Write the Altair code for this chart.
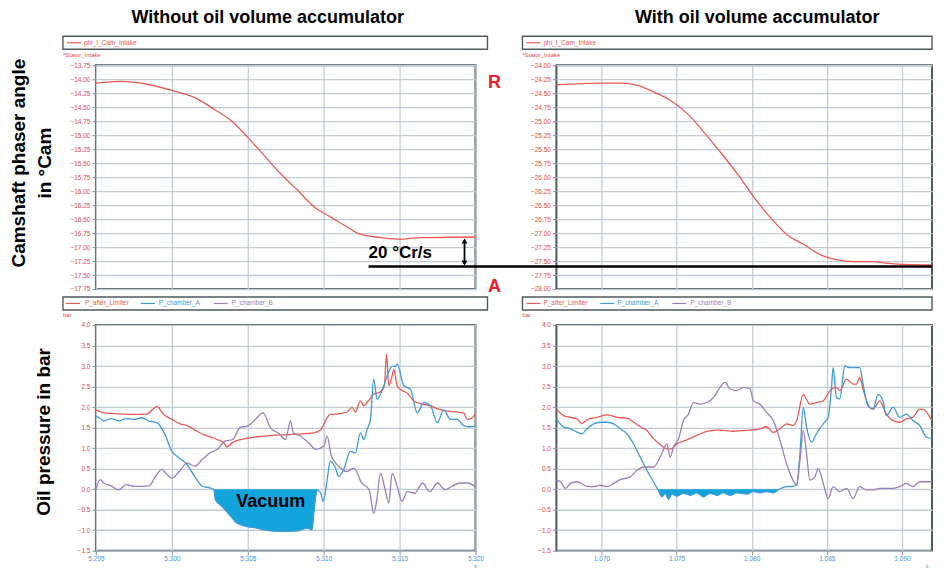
import altair as alt
import pandas as pd

# ---------------- data ----------------
# top row: camshaft phaser angle in °Cam
cam_left_time = [5.2950, 5.2966, 5.2984, 5.3000, 5.3015, 5.3028, 5.3039, 5.3050, 5.3061, 5.3072,
                 5.3083, 5.3094, 5.3105, 5.3116, 5.3124, 5.3138, 5.3151, 5.3159, 5.3170, 5.3200]
cam_left_angle = [-14.07, -14.04, -14.09, -14.20, -14.33, -14.54, -14.74, -15.04, -15.37, -15.70,
                  -15.99, -16.29, -16.47, -16.65, -16.77, -16.83, -16.86, -16.84, -16.83, -16.82]
cam_right_time = [1.0670, 1.0700, 1.0713, 1.0724, 1.0735, 1.0746, 1.0757, 1.0768, 1.0779, 1.0791,
                  1.0802, 1.0813, 1.0824, 1.0835, 1.0846, 1.0857, 1.0868, 1.0879, 1.0891, 1.0902, 1.0920]
cam_right_angle = [-24.35, -24.32, -24.32, -24.36, -24.48, -24.63, -24.86, -25.19, -25.55, -25.96,
                   -26.38, -26.74, -27.04, -27.21, -27.39, -27.48, -27.51, -27.51, -27.54, -27.56, -27.57]

# bottom-left: oil pressure in bar, without accumulator
bl_limiter_t = [5.29500, 5.29551, 5.29616, 5.29726, 5.29836, 5.29869, 5.29902, 5.29946, 5.30001, 5.30056,
                5.30100, 5.30166, 5.30210, 5.30298, 5.30341, 5.30363, 5.30401, 5.30495, 5.30605, 5.30715,
                5.30825, 5.30935, 5.30979, 5.31023, 5.31044, 5.31110, 5.31154, 5.31187, 5.31209, 5.31242,
                5.31264, 5.31286, 5.31330, 5.31374, 5.31400, 5.31414, 5.31429, 5.31451, 5.31462, 5.31484,
                5.31506, 5.31550, 5.31594, 5.31651, 5.31704, 5.31748, 5.31813, 5.31879, 5.31923, 5.31945,
                5.31967, 5.32000]
bl_limiter_p = [1.93, 1.86, 1.84, 1.82, 1.83, 1.93, 2.01, 1.82, 1.70, 1.59,
                1.55, 1.41, 1.33, 1.21, 1.13, 1.03, 1.14, 1.24, 1.29, 1.32,
                1.34, 1.37, 1.44, 1.74, 1.82, 1.84, 1.88, 1.99, 1.88, 2.15,
                2.03, 2.11, 2.31, 2.37, 2.52, 3.29, 2.52, 2.76, 2.92, 2.52,
                2.43, 2.34, 2.15, 2.07, 2.03, 1.96, 1.90, 1.88, 1.85, 1.70,
                1.71, 1.84]
bl_chamber_a_t = [5.29500, 5.29529, 5.29551, 5.29601, 5.29649, 5.29700, 5.29750, 5.29801, 5.29849, 5.29900,
                  5.29950, 5.30001, 5.30049, 5.30100, 5.30150, 5.30201, 5.30249, 5.30276, 5.30287, 5.30330,
                  5.30385, 5.30429, 5.30495, 5.30561, 5.30605, 5.30715, 5.30825, 5.30891, 5.30924, 5.30935,
                  5.30957, 5.30979, 5.30996, 5.31012, 5.31023, 5.31044, 5.31077, 5.31099, 5.31132, 5.31176,
                  5.31209, 5.31242, 5.31264, 5.31286, 5.31308, 5.31330, 5.31352, 5.31396, 5.31418, 5.31451,
                  5.31473, 5.31484, 5.31528, 5.31572, 5.31616, 5.31660, 5.31704, 5.31748, 5.31791, 5.31835,
                  5.31879, 5.31923, 5.31967, 5.32000]
bl_chamber_a_p = [1.78, 1.72, 1.66, 1.72, 1.66, 1.72, 1.70, 1.74, 1.66, 1.62,
                  1.37, 0.92, 0.76, 0.60, 0.31, 0.07, 0.03, -0.01, -0.26, -0.42,
                  -0.65, -0.83, -0.91, -0.95, -0.99, -1.03, -1.02, -0.95, -0.99, -0.59,
                  -0.03, -0.08, -0.30, -0.06, 0.23, 0.68, 0.52, 0.31, 0.48, 0.92,
                  0.88, 1.37, 1.21, 1.45, 1.70, 2.68, 2.19, 2.52, 2.76, 2.99,
                  2.99, 3.05, 2.52, 2.43, 1.86, 2.11, 2.03, 1.62, 1.93, 1.70,
                  1.70, 1.55, 1.52, 1.54]
bl_chamber_b_t = [5.29500, 5.29529, 5.29551, 5.29601, 5.29649, 5.29700, 5.29750, 5.29801, 5.29849, 5.29900,
                  5.29935, 5.29950, 5.30001, 5.30049, 5.30100, 5.30150, 5.30201, 5.30249, 5.30300, 5.30350,
                  5.30401, 5.30449, 5.30500, 5.30550, 5.30601, 5.30649, 5.30700, 5.30750, 5.30781, 5.30801,
                  5.30849, 5.30900, 5.30950, 5.31001, 5.31023, 5.31051, 5.31099, 5.31150, 5.31200, 5.31251,
                  5.31299, 5.31330, 5.31350, 5.31374, 5.31400, 5.31429, 5.31451, 5.31484, 5.31517, 5.31550,
                  5.31600, 5.31651, 5.31699, 5.31750, 5.31800, 5.31850, 5.31899, 5.31950, 5.32000]
bl_chamber_b_p = [-0.01, 0.23, 0.15, 0.08, -0.02, 0.11, 0.07, 0.07, 0.08, 0.35,
                  0.49, 0.43, 0.27, 0.43, 0.64, 0.56, 0.72, 0.88, 0.97, 1.17,
                  1.21, 1.50, 1.54, 1.70, 1.86, 1.50, 1.37, 1.21, 1.66, 1.37,
                  1.29, 1.13, 0.97, 1.05, 1.29, 0.80, 0.56, 0.43, 0.51, 0.15,
                  -0.01, -0.59, -0.26, 0.39, 0.07, -0.34, 0.39, 0.07, -0.30, -0.06,
                  -0.10, 0.15, -0.06, 0.15, -0.01, 0.08, 0.15, 0.15, 0.05]

# bottom-right: oil pressure in bar, with accumulator
br_limiter_t = [1.06700, 1.06749, 1.06793, 1.06837, 1.06870, 1.06904, 1.06970, 1.07037, 1.07103, 1.07169,
                1.07214, 1.07258, 1.07302, 1.07346, 1.07391, 1.07435, 1.07468, 1.07501, 1.07568, 1.07634,
                1.07701, 1.07789, 1.07878, 1.07966, 1.08055, 1.08099, 1.08144, 1.08188, 1.08232, 1.08276,
                1.08299, 1.08343, 1.08387, 1.08431, 1.08476, 1.08520, 1.08564, 1.08586, 1.08631, 1.08675,
                1.08697, 1.08719, 1.08741, 1.08774, 1.08808, 1.08852, 1.08896, 1.08941, 1.08985, 1.09029,
                1.09073, 1.09118, 1.09151, 1.09173, 1.09200]
br_limiter_p = [1.95, 1.79, 1.75, 1.71, 1.60, 1.69, 1.75, 1.81, 1.75, 1.73,
                1.63, 1.52, 1.43, 1.23, 1.09, 0.98, 0.98, 1.10, 1.20, 1.31,
                1.41, 1.44, 1.41, 1.43, 1.47, 1.52, 1.38, 1.47, 1.59, 1.55,
                1.67, 2.31, 2.07, 2.11, 2.15, 2.40, 2.48, 2.40, 2.68, 2.56,
                2.56, 2.72, 2.44, 2.07, 1.95, 2.15, 1.83, 1.67, 1.63, 1.71,
                1.75, 1.95, 1.93, 1.83, 1.67]
br_chamber_a_t = [1.06700, 1.06749, 1.06793, 1.06837, 1.06870, 1.06904, 1.06948, 1.06992, 1.07037, 1.07081,
                  1.07125, 1.07169, 1.07214, 1.07258, 1.07302, 1.07346, 1.07380, 1.07402, 1.07424, 1.07446,
                  1.07468, 1.07501, 1.07546, 1.07590, 1.07634, 1.07679, 1.07723, 1.07767, 1.07811, 1.07856,
                  1.07900, 1.07966, 1.08011, 1.08055, 1.08099, 1.08144, 1.08188, 1.08232, 1.08276, 1.08299,
                  1.08321, 1.08343, 1.08365, 1.08398, 1.08431, 1.08476, 1.08509, 1.08531, 1.08542, 1.08564,
                  1.08586, 1.08620, 1.08653, 1.08697, 1.08719, 1.08741, 1.08774, 1.08808, 1.08841, 1.08874,
                  1.08896, 1.08941, 1.08985, 1.09029, 1.09073, 1.09118, 1.09162, 1.09200]
br_chamber_a_p = [1.71, 1.51, 1.47, 1.39, 1.35, 1.47, 1.59, 1.63, 1.63, 1.59,
                  1.47, 1.35, 1.10, 0.78, 0.46, 0.18, -0.04, -0.19, -0.10, -0.25,
                  -0.12, -0.17, -0.10, -0.15, -0.09, -0.19, -0.10, -0.15, -0.09, -0.15,
                  -0.09, -0.12, -0.06, -0.09, -0.06, -0.09, 0.01, 0.06, 0.07, 0.10,
                  0.86, 1.99, 1.51, 1.15, 1.35, 1.59, 1.75, 2.48, 2.96, 2.23,
                  2.20, 3.00, 2.96, 2.96, 2.96, 2.56, 2.03, 1.95, 2.31, 2.15,
                  1.79, 1.99, 1.75, 1.83, 1.67, 1.55, 1.27, 1.23]
br_chamber_b_t = [1.06700, 1.06727, 1.06760, 1.06793, 1.06837, 1.06904, 1.06948, 1.06992, 1.07037, 1.07081,
                  1.07125, 1.07192, 1.07236, 1.07280, 1.07346, 1.07391, 1.07435, 1.07457, 1.07479, 1.07513,
                  1.07546, 1.07579, 1.07612, 1.07656, 1.07701, 1.07745, 1.07789, 1.07822, 1.07856, 1.07900,
                  1.07944, 1.07989, 1.08011, 1.08055, 1.08099, 1.08144, 1.08188, 1.08232, 1.08276, 1.08299,
                  1.08321, 1.08343, 1.08365, 1.08387, 1.08420, 1.08442, 1.08476, 1.08509, 1.08542, 1.08586,
                  1.08631, 1.08675, 1.08719, 1.08763, 1.08808, 1.08852, 1.08896, 1.08941, 1.08985, 1.09029,
                  1.09073, 1.09118, 1.09162, 1.09200]
br_chamber_b_p = [0.22, 0.18, 0.02, 0.14, 0.18, 0.07, 0.06, 0.10, 0.06, 0.14,
                  0.23, 0.30, 0.46, 0.54, 0.54, 0.78, 1.10, 0.78, 1.02, 1.23,
                  1.67, 1.83, 2.11, 2.07, 2.11, 2.23, 2.48, 2.60, 2.44, 2.40,
                  2.48, 2.44, 2.15, 2.07, 1.87, 1.67, 1.19, 0.62, 0.22, 0.10,
                  0.70, 1.43, 0.86, 0.22, 0.30, 0.50, 0.14, -0.23, 0.06, -0.06,
                  0.02, -0.23, 0.06, -0.02, -0.02, 0.02, 0.02, 0.02, 0.06, 0.14,
                  0.06, 0.18, 0.18, 0.18]

series_names = ["P_after_Limiter", "P_chamber_A", "P_chamber_B"]
cam_series_name = "phi_I_Cam_Intake"

# axes: tick values and domains
cam_left_ticks = [-17.75, -17.5, -17.25, -17.0, -16.75, -16.5, -16.25, -16.0, -15.75, -15.5,
                  -15.25, -15.0, -14.75, -14.5, -14.25, -14.0, -13.75]
cam_right_ticks = [-28.0, -27.75, -27.5, -27.25, -27.0, -26.75, -26.5, -26.25, -26.0, -25.75,
                   -25.5, -25.25, -25.0, -24.75, -24.5, -24.25, -24.0]
pressure_ticks = [-1.5, -1.0, -0.5, 0.0, 0.5, 1.0, 1.5, 2.0, 2.5, 3.0, 3.5, 4.0]
left_time_ticks = [5.295, 5.300, 5.305, 5.310, 5.315, 5.320]
right_time_ticks = [1.070, 1.075, 1.080, 1.085, 1.090]
left_time_domain = [5.295, 5.320]
right_time_domain = [1.067, 1.092]
cam_left_domain = [-17.75, -13.75]
cam_right_domain = [-28.0, -24.0]
pressure_domain = [-1.5, 4.0]
left_vacuum = [5.30276, 5.30957]
right_vacuum = [1.07380, 1.08188]

# ---------------- style ----------------
FONT = "Liberation Sans"
RED = "#e85a50"
BLUE = "#3f9bd8"
PURPLE = "#9b7fba"
VAC = "#14a4dc"
LBL_RED = "#e4483f"
LBL_BLUE = "#4a93d8"
ANN_RED = "#e8202a"
GRID = "#c4ccd5"
FRAME = "#4d5a5e"
TICK = "#8a9399"
COLORS = [RED, BLUE, PURPLE]

ONE = pd.DataFrame({"k": [0]})


def label(s, x, y, size, color="#000000", weight="bold", angle=None, align="center"):
    kw = dict(text=s, font=FONT, fontSize=size, fontWeight=weight, color=color,
              align=align, baseline="middle")
    if angle is not None:
        kw["angle"] = angle
    return alt.Chart(ONE).mark_text(**kw).encode(x=alt.value(x), y=alt.value(y))


def hline(x1, x2, y, color, width):
    return alt.Chart(ONE).mark_rule(color=color, strokeWidth=width).encode(
        x=alt.value(x1), x2=alt.value(x2), y=alt.value(y))


def vline(x, y1, y2, color, width):
    return alt.Chart(ONE).mark_rule(color=color, strokeWidth=width).encode(
        x=alt.value(x), y=alt.value(y1), y2=alt.value(y2))


def box(x1, y1, x2, y2):
    return alt.Chart(ONE).mark_rect(fillOpacity=0, stroke=FRAME, strokeWidth=1.4).encode(
        x=alt.value(x1), x2=alt.value(x2), y=alt.value(y1), y2=alt.value(y2))


def legend(bx1, bx2, by1, entries):
    layers = [box(bx1, by1, bx2, by1 + 13)]
    yc = by1 + 6.5
    for name, color, lx, tx in entries:
        layers.append(hline(lx, lx + 14, yc, color, 1.2))
        layers.append(label(name, tx, yc, 6.5, color=color, weight="normal", align="left"))
    return layers


def time_axis(ticks, show):
    if show:
        return alt.Axis(values=ticks, format=".3f", title=None, domain=False, grid=True,
                        gridColor=GRID, gridWidth=1.3, tickSize=4, tickColor=TICK,
                        labelColor=LBL_BLUE, labelFont=FONT, labelFontSize=6.5,
                        labelPadding=1, labelFlush=False, labelOverlap=False)
    return alt.Axis(values=ticks, title=None, domain=False, grid=True, gridColor=GRID,
                    gridWidth=1.3, ticks=False, labels=False)


def value_axis(ticks, fmt):
    return alt.Axis(values=ticks, format=fmt, title=None, domain=False, grid=True,
                    gridColor=GRID, gridWidth=1.3, tickSize=4, tickColor=TICK,
                    labelColor=LBL_RED, labelFont=FONT, labelFontSize=6.5,
                    labelPadding=2, labelFlush=False, labelOverlap=False)


def cam_panel(t, v, xdom, xticks, ydom, yticks, width, extra):
    df = pd.DataFrame({"t": t, "angle": v})
    line = alt.Chart(df).mark_line(color=RED, strokeWidth=1.3, interpolate="monotone").encode(
        x=alt.X("t:Q", scale=alt.Scale(domain=xdom, nice=False, zero=False),
                axis=time_axis(xticks, False)),
        y=alt.Y("angle:Q", scale=alt.Scale(domain=ydom, nice=False, zero=False),
                axis=value_axis(yticks, ".2f")))
    return alt.layer(line, *extra).properties(width=width, height=224)


def pressure_panel(series, xdom, xticks, vac_range, width, extra):
    frames = [pd.DataFrame({"t": t, "p": p, "s": name}) for name, (t, p) in zip(series_names, series)]
    df = pd.concat(frames, ignore_index=True)
    ta, pa = series[1]
    vac = pd.DataFrame({"t": ta, "p": pa})
    vac = vac[(vac["t"] >= vac_range[0]) & (vac["t"] <= vac_range[1])].copy()
    vac["p"] = vac["p"].clip(upper=0.0)
    vac["z"] = 0.0
    X = alt.X("t:Q", scale=alt.Scale(domain=xdom, nice=False, zero=False), axis=time_axis(xticks, True))
    Y = alt.Y("p:Q", scale=alt.Scale(domain=pressure_domain, nice=False, zero=False),
              axis=value_axis(pressure_ticks, ".1f"))
    area = alt.Chart(vac).mark_area(color=VAC, opacity=1, interpolate="monotone").encode(x=X, y=Y, y2="z:Q")
    lines = alt.Chart(df).mark_line(strokeWidth=1.3, interpolate="monotone").encode(
        x=X, y=Y,
        color=alt.Color("s:N", scale=alt.Scale(domain=series_names, range=COLORS), legend=None))
    return alt.layer(area, lines, *extra).properties(width=width, height=226)


# ---------------- panels ----------------
origin = alt.Chart(ONE).mark_rect(opacity=0).encode(
    x=alt.value(-87), x2=alt.value(-86), y=alt.value(-56), y2=alt.value(-55))

tl_extra = [origin,
            label("Without oil volume accumulator", 172, -47, 18),
            label("Camshaft phaser angle", -77, 98, 19, angle=270),
            label("in °Cam", -50.5, 98, 19, angle=270),
            label("R", 399, 18, 18, color=ANN_RED),
            label("A", 399, 222, 18, color=ANN_RED),
            label("20 °Cr/s", 273, 188, 17, align="left"),
            vline(369, 176, 199, "#000000", 1.8),
            alt.Chart(ONE).mark_point(shape="triangle-up", filled=True, size=34, color="#000000", opacity=1).encode(
                x=alt.value(369), y=alt.value(176)),
            alt.Chart(ONE).mark_point(shape="triangle-down", filled=True, size=34, color="#000000", opacity=1).encode(
                x=alt.value(369), y=alt.value(198)),
            label("*Stator_Intake", -33, -10, 6, color=LBL_RED, weight="normal", align="left"),
            ] + legend(-33, 392, -29, [(cam_series_name, RED, -29, -12)])

tr_extra = [label("With oil volume accumulator", 201, -47, 18),
            label("*Stator_Intake", -34, -10, 6, color=LBL_RED, weight="normal", align="left"),
            hline(-188, 376, 201.5, "#000000", 2.5),
            ] + legend(-34, 376, -29, [(cam_series_name, RED, -30, -13)])

bl_extra = [label("Oil pressure in bar", -51.5, 107, 19, angle=270),
            label("Vacuum", 175, 177, 18),
            label("bar", -33, -10, 6, color=LBL_RED, weight="normal", align="left"),
            label("s", 380, 241, 6, color=LBL_BLUE, weight="normal"),
            ] + legend(-33, 392, -28, [(series_names[0], RED, -30, -11),
                                         (series_names[1], BLUE, 45, 63),
                                         (series_names[2], PURPLE, 118, 136)])

br_extra = [label("bar", -34, -10, 6, color=LBL_RED, weight="normal", align="left"),
            label("s", 371, 241, 6, color=LBL_BLUE, weight="normal"),
            ] + legend(-34, 376, -28, [(series_names[0], RED, -30, -13),
                                         (series_names[1], BLUE, 44, 61),
                                         (series_names[2], PURPLE, 116, 134)])

tl = cam_panel(cam_left_time, cam_left_angle, left_time_domain, left_time_ticks,
               cam_left_domain, cam_left_ticks, 380, tl_extra)
tr = cam_panel(cam_right_time, cam_right_angle, right_time_domain, right_time_ticks,
               cam_right_domain, cam_right_ticks, 376, tr_extra)
bl = pressure_panel([(bl_limiter_t, bl_limiter_p), (bl_chamber_a_t, bl_chamber_a_p),
                     (bl_chamber_b_t, bl_chamber_b_p)],
                    left_time_domain, left_time_ticks, left_vacuum, 380, bl_extra)
br = pressure_panel([(br_limiter_t, br_limiter_p), (br_chamber_a_t, br_chamber_a_p),
                     (br_chamber_b_t, br_chamber_b_p)],
                    right_time_domain, right_time_ticks, right_vacuum, 376, br_extra)

chart = alt.concat(tl, tr, bl, br, columns=2, spacing={"row": 36, "column": 81},
                   bounds="flush", align="each").properties(
    padding=0, background="white"
).configure_view(stroke=FRAME, strokeWidth=2)

chart.save("out.html", embed_options={"renderer": "svg", "actions": False})
